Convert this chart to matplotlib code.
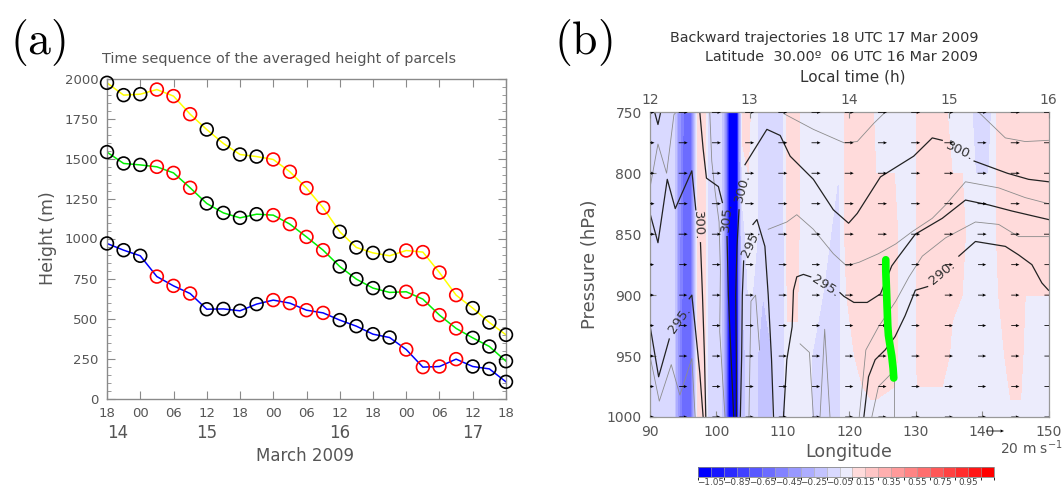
import numpy as np
import matplotlib
matplotlib.use("Agg")
import matplotlib.pyplot as plt
import matplotlib.transforms as mtransforms
from matplotlib.colors import ListedColormap, BoundaryNorm
from matplotlib.ticker import MultipleLocator

plt.rcParams['mathtext.fontset'] = 'cm'
plt.rcParams['font.family'] = ['DejaVu Sans']

# ====================================
# PANEL (a) DATA
# ====================================

hours = [0, 3, 6, 9, 12, 15, 18, 21, 24, 27, 30, 33, 36,
         39, 42, 45, 48, 51, 54, 57, 60, 63, 66, 69, 72]

height_upper = [1973, 1896, 1902, 1931, 1890, 1777, 1681, 1594, 1525, 1512, 1494, 1417, 1315,
                1192, 1042, 944, 910, 892, 925, 915, 787, 646, 565, 475, 398]
height_middle = [1540, 1469, 1460, 1448, 1410, 1317, 1219, 1160, 1129, 1152, 1146, 1090, 1010,
                 927, 825, 746, 690, 663, 667, 621, 521, 438, 379, 325, 233]
height_lower = [969, 927, 892, 762, 704, 656, 558, 560, 548, 590, 615, 596, 552,
                535, 490, 452, 402, 381, 306, 196, 200, 246, 200, 185, 104]

# 1 = red marker, 0 = black marker
daytime = [0, 0, 0, 1, 1, 1, 0, 0, 0, 0, 1, 1, 1,
           1, 0, 0, 0, 0, 1, 1, 1, 1, 0, 0, 0]

xtick_hours = [0, 6, 12, 18, 24, 30, 36, 42, 48, 54, 60, 66, 72]
xtick_labels = ["18", "00", "06", "12", "18", "00", "06", "12", "18", "00", "06", "12", "18"]
day_labels = ["14", "15", "16", "17"]
day_hours = [2, 18, 42, 66]

# ====================================
# PANEL (b) DATA
# ====================================

# shaded field, sampled along longitude at four pressure levels
field_lon = [90.0, 93.6, 94.2, 95.0, 96.2, 96.8, 97.3, 98.3, 98.8, 100.8, 101.4, 102.0,
             103.0, 103.5, 103.9, 104.8, 105.4, 107.0, 110.0, 110.7, 112.2, 112.7, 116.0,
             118.4, 119.0, 119.6, 122.0, 123.3, 124.0, 126.8, 127.8, 129.8, 130.3, 134.0,
             135.5, 137.0, 138.0, 139.0, 141.0, 141.8, 142.5, 144.3, 145.8, 146.5, 150.0]
field_p = [750, 850, 950, 1000]
field_750 = [-0.10, -0.10, -0.35, -0.55, -0.55, -0.15, 0.10, 0.10, -0.10, -0.15, -0.45, -1.10,
             -1.10, -0.40, 0.10, 0.10, 0.00, -0.10, -0.10, 0.10, 0.10, 0.00, 0.00,
             0.00, 0.00, 0.10, 0.10, 0.10, 0.00, 0.00, 0.00, 0.00, 0.10, 0.10,
             0.00, 0.00, 0.00, -0.10, -0.10, 0.00, 0.10, 0.10, 0.10, 0.10, 0.10]
field_850 = [-0.10, -0.10, -0.35, -0.60, -0.55, -0.15, 0.10, 0.10, -0.10, -0.15, -0.45, -1.10,
             -1.10, -0.40, -0.10, 0.00, 0.00, -0.10, -0.10, 0.10, 0.10, 0.00, 0.00,
             -0.10, 0.00, 0.10, 0.10, 0.10, 0.10, 0.10, 0.00, 0.00, 0.10, 0.10,
             0.10, 0.10, 0.00, 0.00, 0.00, 0.00, 0.10, 0.10, 0.10, 0.10, 0.10]
field_950 = [-0.10, -0.10, -0.40, -0.60, -0.55, -0.20, 0.10, 0.10, -0.10, -0.15, -0.45, -1.10,
             -1.10, -0.40, -0.20, -0.10, -0.10, -0.20, -0.10, 0.03, 0.03, 0.00, -0.10,
             -0.10, 0.00, 0.00, 0.10, 0.10, 0.10, 0.10, 0.00, 0.00, 0.10, 0.10,
             0.03, 0.00, 0.00, 0.00, 0.00, 0.00, 0.00, 0.10, 0.10, 0.00, 0.00]
field_1000 = [-0.10, -0.10, -0.40, -0.60, -0.55, -0.20, 0.10, 0.10, -0.10, -0.15, -0.45, -1.10,
              -1.10, -0.40, -0.20, -0.10, -0.10, -0.20, -0.10, 0.00, 0.00, 0.00, -0.10,
              -0.10, 0.00, 0.00, 0.00, 0.03, 0.03, 0.00, 0.00, 0.00, 0.00, 0.00,
              0.00, 0.00, 0.00, 0.00, 0.00, 0.00, 0.00, 0.03, 0.03, 0.00, 0.00]

cbar_ticks = [-1.05, -0.85, -0.65, -0.45, -0.25, -0.05, 0.15, 0.35, 0.55, 0.75, 0.95]

# potential temperature contours (black = every 5 K, gray = in between)
k1_lon = [90.7, 91.2, 91.6]
k1_p = [750, 760, 750]
k2_lon = [90.0, 91.2, 92.6, 93.8, 96.3, 96.9]
k2_p = [833, 857, 805, 829, 798, 830]
k3_lon = [97.6, 97.9, 98.2, 98.4]
k3_p = [857, 900, 950, 1000]
k4a_lon = [90.0, 91.3, 92.9]
k4a_p = [925, 967, 936]
k4b_lon = [95.9, 96.3, 96.8, 97.5, 98.0]
k4b_p = [903, 900, 926, 964, 1000]
k5a_lon = [97.5, 98.0, 98.5, 100.3, 100.9]
k5a_p = [750, 780, 804, 811, 824]
k5b_lon = [101.6, 101.8, 102.2, 102.6]
k5b_p = [852, 900, 950, 1000]
k6a_lon = [103.0, 103.0, 102.9, 103.1, 103.4]
k6a_p = [1000, 950, 900, 860, 830]
k6b_lon = [104.3, 107.6, 109.6, 111.1, 114.6, 117.6, 119.9, 121.2, 124.7, 129.7, 132.5, 134.0]
k6b_p = [793, 764, 769, 786, 805, 830, 841, 833, 803, 786, 771, 773]
k6c_lon = [138.8, 143.8, 147.0, 150.0]
k6c_p = [790, 800, 805, 807]
k7a_lon = [103.6, 103.8, 103.9, 104.1]
k7a_p = [1000, 950, 900, 872]
k7b_lon = [105.5, 106.1, 107.3, 107.8, 108.3, 108.6]
k7b_p = [842, 838, 860, 900, 953, 1000]
k8a_lon = [110.1, 110.6, 111.4, 111.6, 112.1, 113.1, 114.2]
k8a_p = [1000, 953, 926, 896, 885, 883, 885]
k8b_lon = [118.6, 119.2, 120.7, 122.7, 124.7, 126.4, 127.2, 129.95, 134.0, 137.5, 141.0, 144.5, 150.0]
k8b_p = [898, 901, 906, 906, 899, 876, 870, 850, 837, 822, 826, 831, 838]
k9a_lon = [136.5, 139.0, 143.5, 145.5, 147.5, 149.0, 150.0]
k9a_p = [868, 856, 860, 867, 875, 890, 896]
k9b_lon = [131.8, 129.95, 128.4, 126.9, 125.4, 123.9, 122.9, 122.2]
k9b_p = [893, 896, 917, 934, 945, 953, 967, 1000]

g1_lon = [110.1, 114.6, 119.2, 121.2, 123.7, 125.4]
g1_p = [751, 764, 775, 774, 759, 750]
g2_lon = [139.5, 143.5, 146.5, 150.0]
g2_p = [750, 771, 774, 773]
g3_lon = [107.8, 110.6, 112.1, 114.6, 117.6, 119.6, 121.5, 124.4, 127.0, 129.45, 132.5, 134.5,
          137.5, 142.5, 146.5, 150.0]
g3_p = [846, 840, 834, 846, 866, 876, 873, 866, 858, 848, 837, 826, 807, 812, 820, 825]
g4_lon = [121.5, 122.5, 124.4, 127.0, 129.0, 131.0, 134.5, 139.0, 142.5, 145.5, 150.0]
g4_p = [1000, 945, 926, 905, 885, 868, 853, 840, 842, 852, 852]
g5_lon = [90.0, 91.2, 92.5, 93.6, 93.9]
g5_p = [812, 776, 800, 752, 750]
g6_lon = [90.0, 91.4, 93.2, 94.5, 96.3, 96.8]
g6_p = [950, 987, 957, 982, 952, 1000]
g7_lon = [99.0, 99.3, 99.8, 100.4, 100.6, 100.5, 101.0, 101.3]
g7_p = [750, 790, 815, 840, 880, 930, 975, 1000]
g8_lon = [112.6, 114.0, 114.6]
g8_p = [940, 947, 1000]
g9_lon = [115.6, 116.3, 117.1]
g9_p = [1000, 928, 1000]
g10_lon = [126.4, 124.4, 123.4]
g10_p = [964, 975, 1000]
g11_lon = [126.7, 126.7]
g11_p = [968, 1000]
g12_lon = [104.9, 105.2, 105.9, 106.5]
g12_p = [1000, 905, 900, 945]

clabel_text = ["300.", "305.", "300.", "295.", "295.", "295.", "300.", "290."]
clabel_lon = [97.3, 101.5, 103.9, 105.2, 94.4, 116.4, 136.6, 134.0]
clabel_p = [843, 836, 812, 857, 920, 893, 782, 882]
clabel_rot = [-88, 85, 75, 65, 55, -33, -25, 40]

# wind vectors
wind_lon = [90, 95, 100, 105, 110, 115, 120, 125, 130, 135, 140, 145, 150]
wind_p = [750, 775, 800, 825, 850, 875, 900, 925, 950, 975, 1000]
wind_u = [10, 10, 10, 10, 10, 9, 9, 9, 9, 9, 9]

# parcel positions at 06 UTC 16 Mar
traj_lon = [125.5, 125.5, 125.6, 125.7, 125.8, 125.9, 126.1, 126.4, 126.6, 126.7]
traj_p = [871, 880, 895, 910, 925, 933, 940, 950, 960, 968]

local_time_lon = [90, 105, 120, 135, 150]
local_time_labels = ["12", "13", "14", "15", "16"]

# ====================================
# FIGURE
# ====================================

W, H = 1064, 488


def fx(px):
    return px / W


def fy(py):
    return 1 - py / H


fig = plt.figure(figsize=(W / 100, H / 100), dpi=100)

txt = '#555555'
frame = '#8a8a8a'

# ====================================
# PANEL (a)
# ====================================

ax = fig.add_axes([fx(107), fy(398.5), 399 / W, 320 / H])

ax.plot(hours, height_upper, color='#ffff00', lw=1.1, zorder=2)
ax.plot(hours, height_middle, color='#00ee00', lw=1.1, zorder=2)
ax.plot(hours, height_lower, color='#0000ff', lw=1.1, zorder=2)

edge_cols = ['#ff0000' if d else '#000000' for d in daytime]
for series in [height_upper, height_middle, height_lower]:
    ax.scatter(hours, series, s=85, facecolors='none', edgecolors=edge_cols,
               linewidths=1.2, zorder=3, clip_on=False)

ax.set_xlim(0, 72)
ax.set_ylim(0, 2000)
ax.set_xticks(xtick_hours)
ax.set_xticklabels(xtick_labels)
ax.yaxis.set_major_locator(MultipleLocator(250))
ax.yaxis.set_minor_locator(MultipleLocator(50))
ax.tick_params(axis='both', which='major', direction='in', length=6, color=frame,
               labelcolor=txt, labelsize=9.5, top=True, right=True)
ax.tick_params(axis='y', which='minor', direction='in', length=3, color=frame,
               left=True, right=True)
ax.tick_params(axis='x', pad=6)
ax.tick_params(axis='y', pad=6)
for s in ax.spines.values():
    s.set_color(frame)
    s.set_linewidth(1.0)

trans = mtransforms.blended_transform_factory(ax.transData, ax.transAxes)
for lbl, h in zip(day_labels, day_hours):
    ax.text(h, -0.108, lbl, transform=trans, ha='center', va='center',
            fontsize=12, color=txt)
ax.text(0.495, -0.18, 'March 2009', transform=ax.transAxes, ha='center',
        va='center', fontsize=12, color=txt)

fig.text(fx(48), fy(238), 'Height (m)', rotation=90, ha='center', va='center',
         fontsize=12.5, color=txt)
fig.text(fx(279), fy(59), 'Time sequence of the averaged height of parcels',
         ha='center', va='center', fontsize=10.4, color=txt)
fig.text(fx(38), fy(42), r'$\mathrm{(a)}$', ha='center', va='center', fontsize=33)

# ====================================
# PANEL (b)
# ====================================

axb = fig.add_axes([fx(650), fy(417), 398.5 / W, 304.7 / H])

levels = np.round(np.arange(-1.15, 1.16, 0.1), 2)
blues = [(0.085 * i, 0.085 * i, 1.0) for i in range(11)]
reds = [(1.0, 0.86 - 0.086 * k, 0.86 - 0.086 * k) for k in range(11)]
cmap = ListedColormap(blues + [(0.925, 0.925, 0.99)] + reds)
norm = BoundaryNorm(levels, cmap.N)

lon_grid, p_grid = np.meshgrid(field_lon, field_p)
field = np.array([field_750, field_850, field_950, field_1000])
cf = axb.contourf(lon_grid, p_grid, field, levels=levels, cmap=cmap, norm=norm, zorder=1)

black_lines = [(k1_lon, k1_p), (k2_lon, k2_p), (k3_lon, k3_p), (k4a_lon, k4a_p),
               (k4b_lon, k4b_p), (k5a_lon, k5a_p), (k5b_lon, k5b_p), (k6a_lon, k6a_p),
               (k6b_lon, k6b_p), (k6c_lon, k6c_p), (k7a_lon, k7a_p), (k7b_lon, k7b_p),
               (k8a_lon, k8a_p), (k8b_lon, k8b_p), (k9a_lon, k9a_p), (k9b_lon, k9b_p)]
gray_lines = [(g1_lon, g1_p), (g2_lon, g2_p), (g3_lon, g3_p), (g4_lon, g4_p),
              (g5_lon, g5_p), (g6_lon, g6_p), (g7_lon, g7_p), (g8_lon, g8_p),
              (g9_lon, g9_p), (g10_lon, g10_p), (g11_lon, g11_p), (g12_lon, g12_p)]
for lo, pp in gray_lines:
    axb.plot(lo, pp, color='#8c8c8c', lw=0.6, zorder=2)
for lo, pp in black_lines:
    axb.plot(lo, pp, color='#222222', lw=0.9, zorder=2)

for t, lo, pp, r in zip(clabel_text, clabel_lon, clabel_p, clabel_rot):
    axb.text(lo, pp, t, rotation=r, ha='center', va='center', fontsize=9.5,
             color='#333333', zorder=5, rotation_mode='anchor')

U = np.tile(np.array(wind_u, dtype=float)[:, None], (1, len(wind_lon)))
V = np.zeros_like(U)
LON, P = np.meshgrid(wind_lon, wind_p)
Q = axb.quiver(LON, P, U, V, pivot='middle', units='dots', width=0.8,
               headwidth=4, headlength=4.5, headaxislength=4, scale_units='dots',
               scale=20 / 18, color='black', zorder=3)
axb.quiverkey(Q, fx(1004), fy(431), 20, ' ', coordinates='figure', labelpos='E')
fig.text(fx(1032), fy(448), r'20 m s$^{\mathregular{-1}}$', ha='center', va='center',
         fontsize=10, color=txt)

axb.plot(traj_lon, traj_p, color='#00ff00', lw=5.5, solid_capstyle='round', zorder=4)

axb.set_xlim(90, 150)
axb.set_ylim(1000, 750)
axb.set_xticks(range(90, 151, 10))
axb.set_yticks(range(750, 1001, 50))
axb.tick_params(axis='both', direction='in', length=4, color=frame, labelcolor=txt,
                labelsize=10, pad=6)
for s in axb.spines.values():
    s.set_color('#999999')
    s.set_linewidth(0.9)

axt = axb.twiny()
axt.set_xlim(90, 150)
axt.set_xticks(local_time_lon)
axt.set_xticklabels(local_time_labels)
axt.tick_params(axis='x', direction='in', length=4, color=frame, labelcolor=txt,
                labelsize=10, pad=4)
for s in axt.spines.values():
    s.set_visible(False)

fig.text(fx(590), fy(264), 'Pressure (hPa)', rotation=90, ha='center', va='center',
         fontsize=13, color=txt)
fig.text(fx(849), fy(457), 'Longitude', ha='center', va='baseline', fontsize=12.5,
         color=txt)
fig.text(fx(853), fy(77), 'Local time (h)', ha='center', va='center', fontsize=11,
         color='#333333')
fig.text(fx(978), fy(38), 'Backward trajectories 18 UTC 17 Mar 2009', ha='right',
         va='center', fontsize=10.4, color='#333333')
fig.text(fx(978), fy(57), 'Latitude  30.00\u00ba  06 UTC 16 Mar 2009', ha='right',
         va='center', fontsize=10.4, color='#333333')
fig.text(fx(583), fy(42), r'$\mathrm{(b)}$', ha='center', va='center', fontsize=33)

# ====================================
# COLORBAR
# ====================================

cax = fig.add_axes([fx(698), fy(477), 296 / W, 10 / H])
cb = fig.colorbar(cf, cax=cax, orientation='horizontal', ticks=cbar_ticks, drawedges=True)
cb.set_ticklabels([f"{t:.2f}".replace('-', '\u2212') for t in cbar_ticks])
cb.ax.tick_params(length=0, labelsize=6.4, pad=1, labelcolor='#444444')
cb.outline.set_edgecolor('#888888')
cb.outline.set_linewidth(0.6)
cb.dividers.set_color('#aaaaaa')
cb.dividers.set_linewidth(0.4)

fig.savefig("out.png", dpi=100)
